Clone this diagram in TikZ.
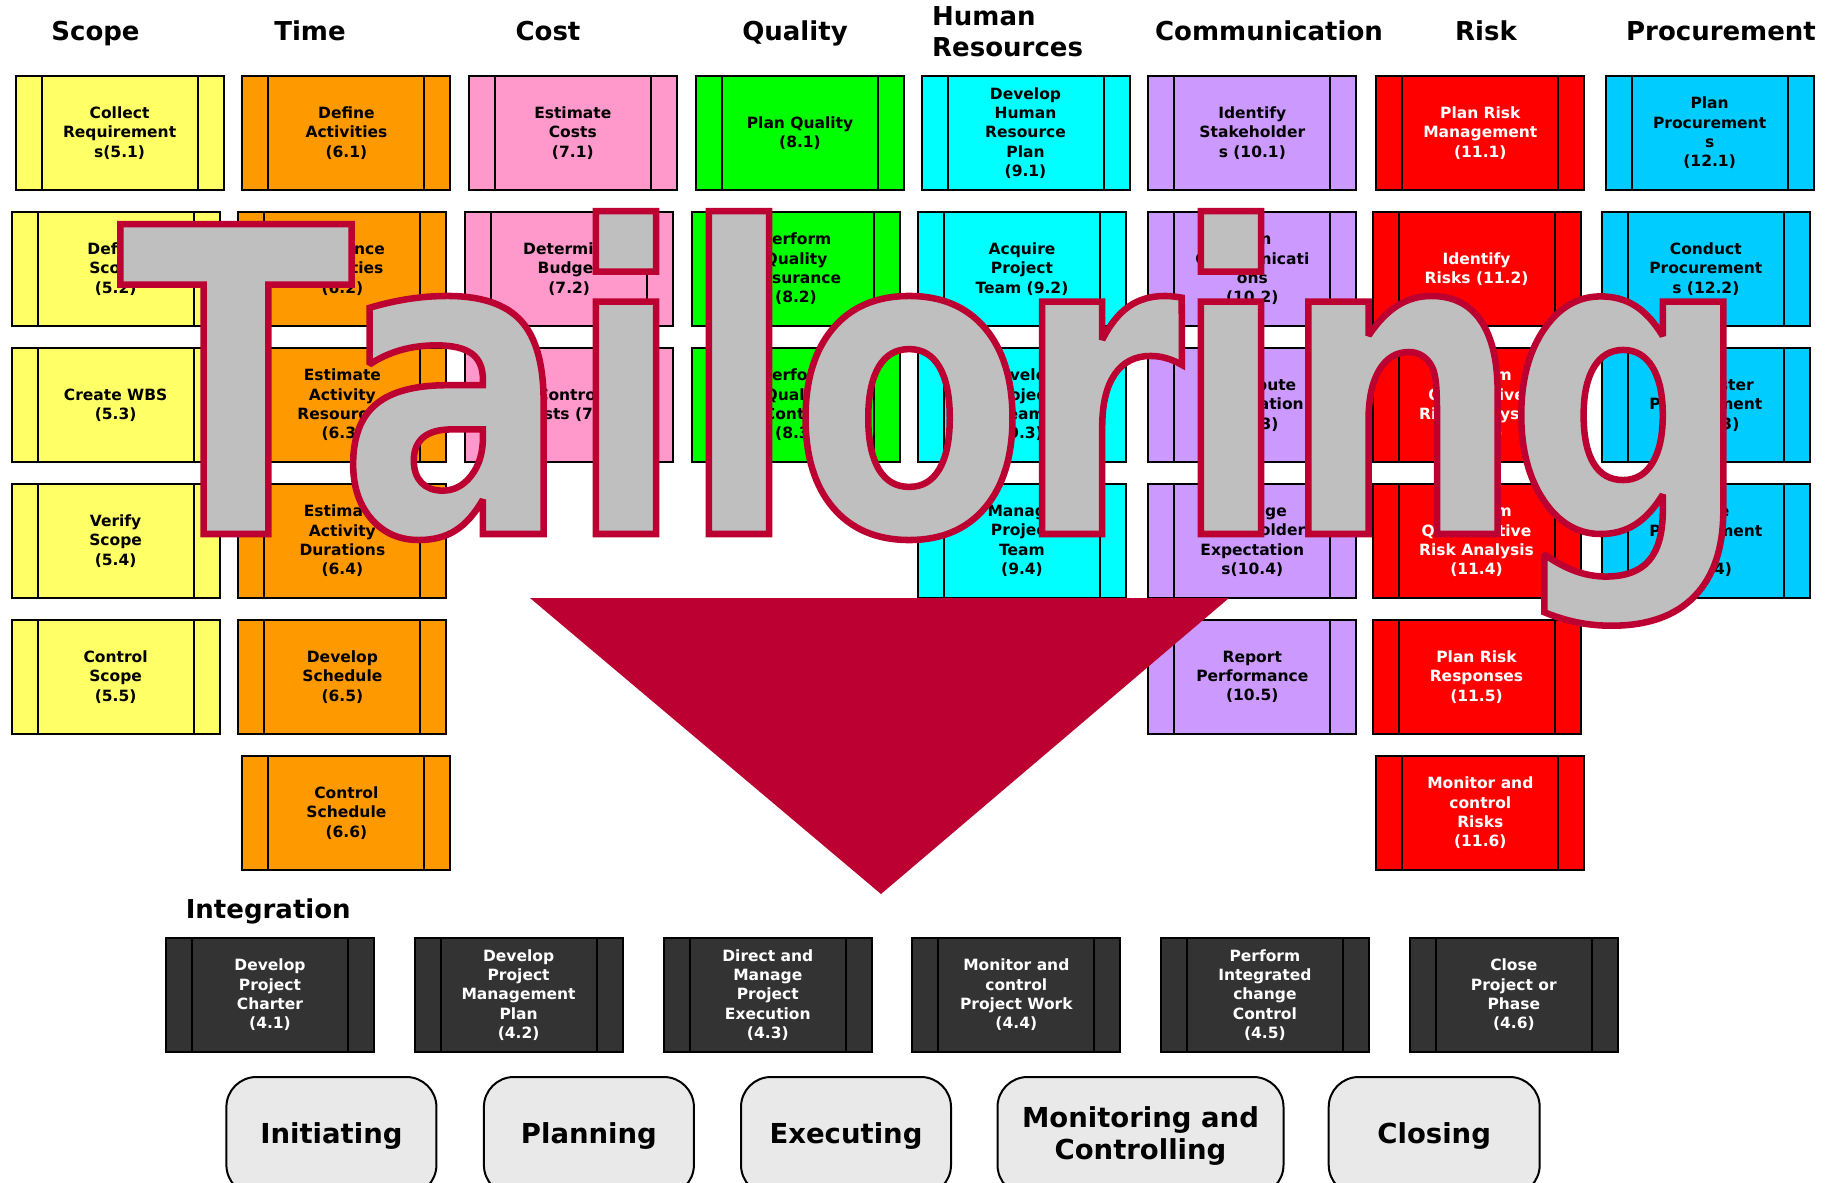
\documentclass[tikz,border=0pt]{standalone}
\usepackage{fontspec}
\setmainfont{DejaVu Sans}
\newfontfamily\bigfont[FakeStretch=0.81]{DejaVu Sans Bold}
\definecolor{cscope}{RGB}{255,255,102}
\definecolor{ctime}{RGB}{255,153,0}
\definecolor{ccost}{RGB}{255,153,204}
\definecolor{cqual}{RGB}{0,255,0}
\definecolor{chr}{RGB}{0,255,255}
\definecolor{ccomm}{RGB}{204,153,255}
\definecolor{crisk}{RGB}{255,0,0}
\definecolor{cproc}{RGB}{0,204,255}
\definecolor{cint}{RGB}{51,51,51}
\definecolor{cphase}{RGB}{233,233,233}
\definecolor{ctri}{RGB}{188,0,49}
\definecolor{tgray}{RGB}{191,191,191}
\newcommand\strk[1]{\special{pdf:literal direct 0.737 0 0.192 RG 6.5 w 2 M 2 Tr}#1\special{pdf:literal direct 0 Tr}}
\newcommand\procbox[6]{%
  \node[pbox, fill=#4, text=#5] (#1) at (#2+104, #3+57) {#6};
  \draw[pline] ([xshift=26pt]#1.north west) -- ([xshift=26pt]#1.south west);
  \draw[pline] ([xshift=-26pt]#1.north east) -- ([xshift=-26pt]#1.south east);
}
\tikzset{
  pbox/.style={draw=black, line width=2pt, minimum width=208pt, minimum height=114pt,
    inner sep=0pt, outer sep=0pt, align=center,
    font=\fontsize{15.5}{19.3}\selectfont\bfseries},
  pline/.style={draw=black, line width=2pt},
  ttl/.style={anchor=base, inner sep=0pt, font=\fontsize{26}{30}\selectfont\bfseries},
  phase/.style={draw=black, line width=2pt, fill=cphase, rounded corners=30pt,
    minimum height=118pt, inner sep=0pt, align=center,
    font=\fontsize{27.5}{32.6}\selectfont\bfseries},
  bigl/.style={anchor=base, inner sep=0pt, outer sep=0pt, text=tgray,
    font=\fontsize{425}{425}\bigfont},
}
\begin{document}
\begin{tikzpicture}[x=1pt,y=-1pt]
\useasboundingbox[fill=white] (0,0) rectangle (1839,1183);

% titles
\node[ttl] (tscope) at (95.5,40.7) {Scope};
\node[ttl] (ttime) at (310,40.7) {Time};
\node[ttl] (tcost) at (548,40.7) {Cost};
\node[ttl] (tqual) at (795,40.7) {Quality};
\node[ttl, anchor=base west] (thr1) at (932,25) {Human};
\node[ttl, anchor=base west] (thr2) at (932,56.7) {Resources};
\node[ttl] (tcomm) at (1269,40.7) {Communication};
\node[ttl] (trisk) at (1486,40.7) {Risk};
\node[ttl] (tproc) at (1721,40.7) {Procurement};

% Scope
\procbox{s1}{15.6}{76}{cscope}{black}{Collect\\Requirement\\s(5.1)}
\procbox{s2}{11.6}{212}{cscope}{black}{Define\\Scope\\(5.2)}
\procbox{s3}{11.6}{348}{cscope}{black}{Create WBS\\(5.3)}
\procbox{s4}{11.6}{484}{cscope}{black}{Verify\\Scope\\(5.4)}
\procbox{s5}{11.6}{620}{cscope}{black}{Control\\Scope\\(5.5)}
% Time
\procbox{m1}{242.4}{76}{ctime}{black}{Define\\Activities\\(6.1)}
\procbox{m2}{238.4}{212}{ctime}{black}{Sequence\\Activities\\(6.2)}
\procbox{m3}{238.4}{348}{ctime}{black}{Estimate\\Activity\\Resources\\(6.3)}
\procbox{m4}{238.4}{484}{ctime}{black}{Estimate\\Activity\\Durations\\(6.4)}
\procbox{m5}{238.4}{620}{ctime}{black}{Develop\\Schedule\\(6.5)}
\procbox{m6}{242.4}{756}{ctime}{black}{Control\\Schedule\\(6.6)}
% Cost
\procbox{c1}{468.8}{76}{ccost}{black}{Estimate\\Costs\\(7.1)}
\procbox{c2}{465.2}{212}{ccost}{black}{Determine\\Budget\\(7.2)}
\procbox{c3}{465.2}{348}{ccost}{black}{Control\\Costs (7.3)}
% Quality
\procbox{q1}{696}{76}{cqual}{black}{Plan Quality\\(8.1)}
\procbox{q2}{692}{212}{cqual}{black}{Perform\\Quality\\Assurance\\(8.2)}
\procbox{q3}{692}{348}{cqual}{black}{Perform\\Quality\\Control\\(8.3)}
% HR
\procbox{h1}{921.5}{76}{chr}{black}{Develop\\Human\\Resource\\Plan\\(9.1)}
\procbox{h2}{918}{212}{chr}{black}{Acquire\\Project\\Team (9.2)}
\procbox{h3}{918}{348}{chr}{black}{Develop\\Project\\Team\\(9.3)}
\procbox{h4}{918}{484}{chr}{black}{Manage\\Project\\Team\\(9.4)}
% Communication
\procbox{k1}{1148.3}{76}{ccomm}{black}{Identify\\Stakeholder\\s (10.1)}
\procbox{k2}{1148.3}{212}{ccomm}{black}{Plan\\Communicati\\ons\\(10.2)}
\procbox{k3}{1148.3}{348}{ccomm}{black}{Distribute\\Information\\(10.3)}
\procbox{k4}{1148.3}{484}{ccomm}{black}{Manage\\Stakeholder\\Expectation\\s(10.4)}
\procbox{k5}{1148.3}{620}{ccomm}{black}{Report\\Performance\\(10.5)}
% Risk
\procbox{r1}{1376.3}{76}{crisk}{white}{Plan Risk\\Management\\(11.1)}
\procbox{r2}{1372.5}{212}{crisk}{white}{Identify\\Risks (11.2)}
\procbox{r3}{1372.5}{348}{crisk}{white}{Perform\\Qualitative\\Risk Analysis\\(11.3)}
\procbox{r4}{1372.5}{484}{crisk}{white}{Perform\\Quantitative\\Risk Analysis\\(11.4)}
\procbox{r5}{1372.5}{620}{crisk}{white}{Plan Risk\\Responses\\(11.5)}
\procbox{r6}{1376.3}{756}{crisk}{white}{Monitor and\\control\\Risks\\(11.6)}
% Procurement
\procbox{p1}{1605.6}{76}{cproc}{black}{Plan\\Procurement\\s\\(12.1)}
\procbox{p2}{1601.8}{212}{cproc}{black}{Conduct\\Procurement\\s (12.2)}
\procbox{p3}{1601.8}{348}{cproc}{black}{Administer\\Procurement\\s (12.3)}
\procbox{p4}{1601.8}{484}{cproc}{black}{Close\\Procurement\\s\\(12.4)}

% Integration
\node[ttl, anchor=base west] (tint) at (185.6,918.3) {Integration};
\procbox{i1}{166}{938}{cint}{white}{Develop\\Project\\Charter\\(4.1)}
\procbox{i2}{414.6}{938}{cint}{white}{Develop\\Project\\Management\\Plan\\(4.2)}
\procbox{i3}{663.8}{938}{cint}{white}{Direct and\\Manage\\Project\\Execution\\(4.3)}
\procbox{i4}{912.3}{938}{cint}{white}{Monitor and\\control\\Project Work\\(4.4)}
\procbox{i5}{1160.9}{938}{cint}{white}{Perform\\Integrated\\change\\Control\\(4.5)}
\procbox{i6}{1409.8}{938}{cint}{white}{Close\\Project or\\Phase\\(4.6)}

% phases
\node[phase, minimum width=210pt] (ph1) at (331.4,1136) {Initiating};
\node[phase, minimum width=210pt] (ph2) at (588.9,1136) {Planning};
\node[phase, minimum width=210pt] (ph3) at (846,1136) {Executing};
\node[phase, minimum width=286pt] (ph4) at (1140.5,1136) {Monitoring and\\Controlling};
\node[phase, minimum width=211pt] (ph5) at (1434.2,1136) {Closing};

% triangle
\fill[ctri] (530,598) -- (1229,598) -- (881,894) -- cycle;

% Tailoring
\node[bigl] (b1) at (236,534) {\strk{T}};
\node[bigl] (b2) at (454.5,534) {\strk{a}};
\node[bigl] (b3) at (626,534) {\strk{i}};
\node[bigl] (b4) at (739,534) {\strk{l}};
\node[bigl] (b5) at (909,534) {\strk{o}};
\node[bigl] (b6) at (1098,534) {\strk{r}};
\node[bigl] (b7) at (1231,534) {\strk{i}};
\node[bigl] (b8) at (1402,534) {\strk{n}};
\node[bigl] (b9) at (1629,534) {\strk{g}};
\end{tikzpicture}
\end{document}
